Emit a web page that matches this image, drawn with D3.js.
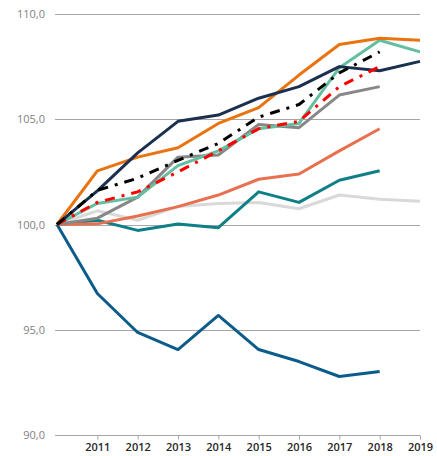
<!DOCTYPE html>
<html>
<head>
<meta charset="utf-8">
<script src="https://cdn.jsdelivr.net/npm/d3@7"></script>
<style>
html,body{margin:0;padding:0;background:#fff;}
svg{display:block;}
</style>
</head>
<body>
<svg id="chart" width="437" height="456"></svg>
<script>
const years = [2010, 2011, 2012, 2013, 2014, 2015, 2016, 2017, 2018, 2019];
const xTickYears = [2011, 2012, 2013, 2014, 2015, 2016, 2017, 2018, 2019];
const yTicks = [90, 95, 100, 105, 110];

const seriesLightGray = [100, 100.65, 100.2, 100.85, 101.0, 101.05, 100.75, 101.4, 101.2, 101.1];
const seriesBlue      = [100, 96.72, 94.87, 94.06, 95.68, 94.06, 93.49, 92.78, 93.02];
const seriesTeal      = [100, 100.2, 99.72, 100.02, 99.85, 101.55, 101.05, 102.1, 102.55];
const seriesSalmon    = [100, 100.03, 100.4, 100.85, 101.4, 102.15, 102.4, 103.5, 104.55];
const seriesGray      = [100, 100.3, 101.3, 103.2, 103.3, 104.75, 104.6, 106.15, 106.55];
const seriesGreen     = [100, 101.0, 101.3, 102.8, 103.5, 104.55, 104.8, 107.45, 108.75, 108.2];
const seriesNavy      = [100, 101.6, 103.4, 104.9, 105.2, 106.0, 106.55, 107.5, 107.3, 107.75];
const seriesOrange    = [100, 102.55, 103.2, 103.65, 104.8, 105.55, 107.1, 108.55, 108.85, 108.75];
const seriesRed       = [100, 101.05, 101.55, 102.5, 103.5, 104.55, 104.9, 106.55, 107.5];
const seriesBlack     = [100, 101.62, 102.2, 103.05, 103.85, 105.1, 105.7, 107.2, 108.2];

const svg = d3.select("#chart");
const x = d3.scaleLinear().domain([2010, 2019]).range([57, 420]);
const y = d3.scaleLinear().domain([90, 110]).range([435, 14]);

// gridlines
svg.append("g").selectAll("line").data(yTicks.filter(d => d !== 90)).join("line")
  .attr("x1", 55).attr("x2", 420)
  .attr("y1", d => Math.round(y(d)) + 0.5).attr("y2", d => Math.round(y(d)) + 0.5)
  .attr("stroke", "#A6A6A6").attr("stroke-width", 1);

// y labels
svg.append("g").selectAll("text").data(yTicks).join("text")
  .attr("x", 45).attr("y", d => y(d) + 4)
  .attr("text-anchor", "end")
  .attr("font-family", "'Open Sans', sans-serif").attr("font-size", 11)
  .attr("fill", "#7F7F7F")
  .text(d => d3.format(".1f")(d).replace(".", ","));

// x axis
const xAxis = d3.axisBottom(x).tickValues(xTickYears).tickSize(4).tickFormat(d3.format("d"));
const gx = svg.append("g").attr("transform", `translate(0,${Math.round(y(90)) + 0.5})`).call(xAxis);
gx.select(".domain").attr("d", "M55,0H420").attr("stroke", "#A6A6A6");
gx.selectAll(".tick line").attr("stroke", "#A6A6A6");
gx.selectAll(".tick text")
  .attr("font-family", "'Open Sans', sans-serif").attr("font-size", 11)
  .attr("font-weight", 600)
  .attr("fill", "#262626").attr("y", 0).attr("dy", 15.5);

const line = d3.line().x((d, i) => x(years[i])).y(d => y(d));

const series = [
  {v: seriesLightGray, c: "#D9D9D9", w: 3},
  {v: seriesBlue, c: "#0B5C8B", w: 3},
  {v: seriesTeal, c: "#0E7F87", w: 3},
  {v: seriesSalmon, c: "#E8704F", w: 3},
  {v: seriesGray, c: "#878787", w: 3},
  {v: seriesGreen, c: "#63BFA0", w: 3},
  {v: seriesOrange, c: "#E8730F", w: 3},
  {v: seriesNavy, c: "#1B2F4E", w: 3},
  {v: seriesRed, c: "#FF0000", w: 3, dash: "10,7,3,7"},
  {v: seriesBlack, c: "#000000", w: 3, dash: "10,7,3,7"}
];

svg.append("g").selectAll("path").data(series).join("path")
  .attr("d", d => line(d.v))
  .attr("fill", "none")
  .attr("stroke", d => d.c)
  .attr("stroke-width", d => d.w)
  .attr("stroke-linejoin", "round")
  .attr("stroke-dasharray", d => d.dash || null);
</script>
</body>
</html>
